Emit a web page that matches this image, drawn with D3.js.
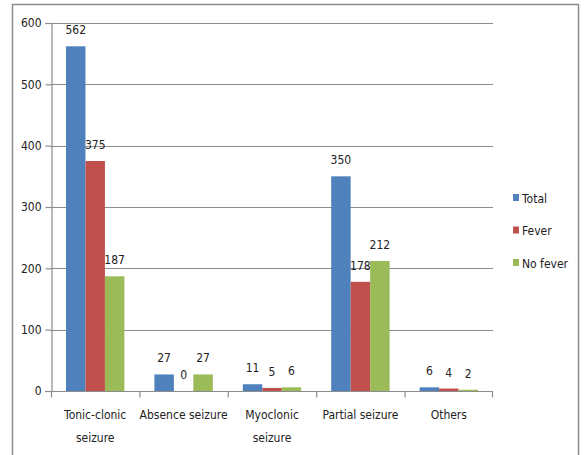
<!DOCTYPE html>
<html>
<head>
<meta charset="utf-8">
<script src="https://cdn.jsdelivr.net/npm/d3@7"></script>
<style>
  body { margin: 0; background: #fff; }
  svg text { font-family: "Liberation Sans Narrow", "DejaVu Sans Condensed", "Open Sans", sans-serif; fill: #222; }
</style>
</head>
<body>
<div id="chart"></div>
<script>
var categories = [["Tonic-clonic", "seizure"], ["Absence seizure"], ["Myoclonic", "seizure"], ["Partial seizure"], ["Others"]];
var seriesNames = ["Total", "Fever", "No fever"];
var total = [562, 27, 11, 350, 6];
var fever = [375, 0, 5, 178, 4];
var noFever = [187, 27, 6, 212, 2];
var yTicks = [0, 100, 200, 300, 400, 500, 600];
var colors = ["#4f81bd", "#c0504d", "#9bbb59"];

var W = 585, H = 455;
var plot = { left: 51, right: 493, top: 23, bottom: 391 };
var series = [total, fever, noFever];

var svg = d3.select("#chart").append("svg")
    .attr("width", W)
    .attr("height", H);

// frame
svg.append("rect")
    .attr("x", 12.5).attr("y", 4.5)
    .attr("width", 566).attr("height", 460)
    .attr("fill", "none")
    .attr("stroke", "#8c8c8c")
    .attr("stroke-width", 1.5);

var x = d3.scaleBand()
    .domain(d3.range(categories.length))
    .range([plot.left, plot.right])
    .paddingInner(0).paddingOuter(0);

var xs = d3.scaleBand()
    .domain(d3.range(seriesNames.length))
    .range([0, x.bandwidth()])
    .paddingOuter(0.77).paddingInner(0);

var y = d3.scaleLinear().domain([0, 600]).range([plot.bottom, plot.top]);

// gridlines
svg.append("g").selectAll("line")
    .data(yTicks.filter(function (d) { return d > 0; }))
    .enter().append("line")
    .attr("x1", plot.left).attr("x2", plot.right)
    .attr("y1", function (d) { return Math.round(y(d)) + 0.5; })
    .attr("y2", function (d) { return Math.round(y(d)) + 0.5; })
    .attr("stroke", "#8c8c8c")
    .attr("stroke-width", 1.2);

// y axis
var yAxis = svg.append("g")
    .attr("transform", "translate(" + (plot.left + 0.5) + ",0)")
    .call(d3.axisLeft(y).tickValues(yTicks).tickSize(6).tickPadding(4));
yAxis.select(".domain").attr("stroke", "#8c8c8c").attr("stroke-width", 1.2);
yAxis.selectAll(".tick line").attr("stroke", "#8c8c8c").attr("stroke-width", 1.2);
yAxis.selectAll(".tick text").attr("font-size", "12px").attr("fill", "#222");

// bars
series.forEach(function (vals, s) {
    svg.append("g").selectAll("rect")
        .data(vals)
        .enter().append("rect")
        .attr("x", function (d, i) { return x(i) + xs(s); })
        .attr("y", function (d) { return y(d); })
        .attr("width", xs.bandwidth())
        .attr("height", function (d) { return plot.bottom - y(d); })
        .attr("fill", colors[s]);

    svg.append("g").selectAll("text")
        .data(vals)
        .enter().append("text")
        .attr("x", function (d, i) { return x(i) + xs(s) + xs.bandwidth() / 2; })
        .attr("y", function (d) { return y(d) - 12; })
        .attr("text-anchor", "middle")
        .attr("font-size", "12px")
        .text(function (d) { return d; });
});

// x axis
var xAxis = svg.append("g")
    .attr("transform", "translate(0," + (plot.bottom + 0.5) + ")");
xAxis.append("line")
    .attr("x1", plot.left - 6).attr("x2", plot.right)
    .attr("stroke", "#8c8c8c").attr("stroke-width", 1.2);
xAxis.selectAll(".xtick")
    .data(d3.range(categories.length + 1))
    .enter().append("line")
    .attr("x1", function (i) { return i < categories.length ? x(i) + 0.5 : plot.right - 0.5; })
    .attr("x2", function (i) { return i < categories.length ? x(i) + 0.5 : plot.right - 0.5; })
    .attr("y1", 0).attr("y2", 6)
    .attr("stroke", "#8c8c8c").attr("stroke-width", 1.2);

var labels = xAxis.selectAll(".xlabel")
    .data(categories)
    .enter().append("text")
    .attr("text-anchor", "middle")
    .attr("font-size", "12px");
labels.each(function (lines, i) {
    d3.select(this).selectAll("tspan")
        .data(lines)
        .enter().append("tspan")
        .attr("x", x(i) + x.bandwidth() / 2)
        .attr("y", function (d, j) { return 27 + j * 23; })
        .text(function (d) { return d; });
});

// legend
var legend = svg.append("g").selectAll("g")
    .data(seriesNames)
    .enter().append("g")
    .attr("transform", function (d, i) { return "translate(513," + (198 + i * 32.5) + ")"; });
legend.append("rect")
    .attr("x", 0).attr("y", -4)
    .attr("width", 6).attr("height", 7)
    .attr("fill", function (d, i) { return colors[i]; });
legend.append("text")
    .attr("x", 9).attr("y", 4.5)
    .attr("font-size", "12px")
    .text(function (d) { return d; });
</script>
</body>
</html>
